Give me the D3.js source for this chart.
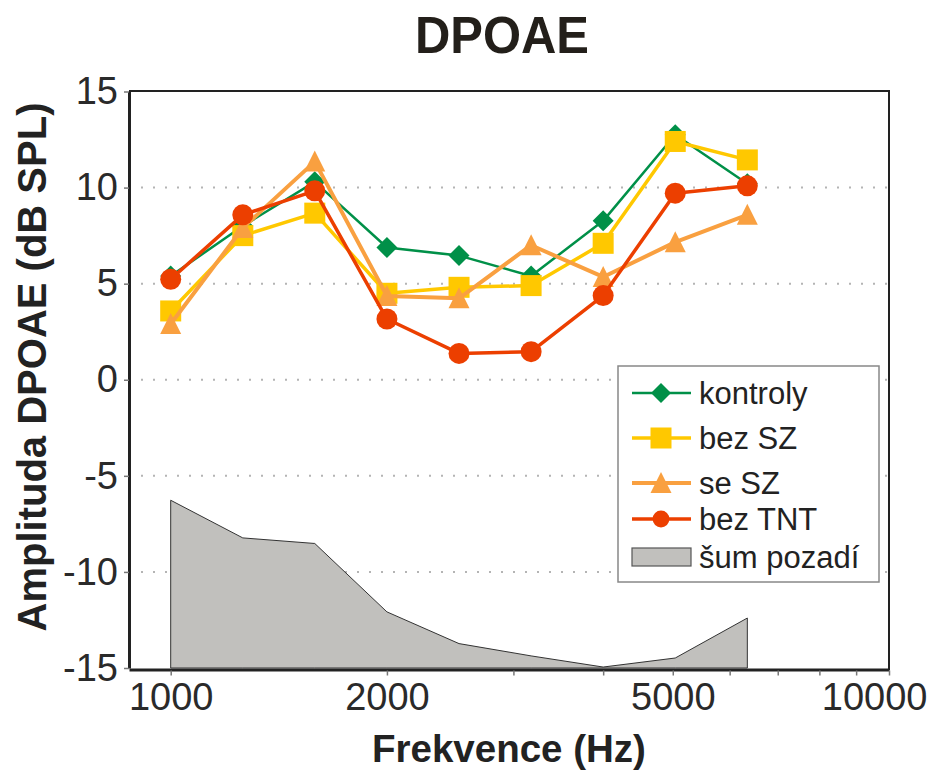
<!DOCTYPE html>
<html><head><meta charset="utf-8">
<script src="https://cdn.jsdelivr.net/npm/d3@7"></script>
<style>html,body{margin:0;padding:0;background:#fff;}svg{display:block;font-family:"Liberation Sans",Arial,sans-serif;}</style>
</head><body><svg id="c" width="929" height="770"></svg>
<script>
const freqs = [1000, 1260, 1587, 2000, 2520, 3175, 4000, 5040, 6350];
const kontroly = [5.4, 8.0, 10.3, 6.88, 6.46, 5.4, 8.27, 12.75, 10.2];
const bezSZ = [3.58, 7.5, 8.67, 4.5, 4.81, 4.9, 7.1, 12.4, 11.44];
const seSZ = [2.9, 7.9, 11.35, 4.36, 4.24, 7.0, 5.35, 7.16, 8.58];
const bezTNT = [5.23, 8.58, 9.83, 3.16, 1.37, 1.46, 4.38, 9.71, 10.09];
const sum = [-6.27, -8.23, -8.52, -12.08, -13.73, -14.37, -14.95, -14.48, -12.4];
const xTickVals = [1000,2000,3000,4000,5000,6000,7000,8000,9000,10000];
const xTickLabels = ["1000","2000","5000","10000"];
const yTicks = [-15,-10,-5,0,5,10,15];
const gridVals = [-10,-5,0,5,10];

const series = [
  {name:"kontroly", values:kontroly, color:"#009048", width:2.5, shape:"diamond"},
  {name:"bez SZ", values:bezSZ, color:"#ffc800", width:3.5, shape:"square"},
  {name:"se SZ", values:seSZ, color:"#f9a040", width:4, shape:"triangle"},
  {name:"bez TNT", values:bezTNT, color:"#ec3f00", width:3.5, shape:"circle"}
];

const svg = d3.select("#c");
const L = 129, R = 889, T = 91.5, B = 668;
const x = d3.scaleLog().domain([1000,10000]).range([170.7,889]);
const x0 = x.invert(L);
x.domain([x0,10000]).range([L,R]);
const y = d3.scaleLinear().domain([-15,15]).range([B,T]);

// grid
svg.append("g").selectAll("line").data(gridVals).join("line")
  .attr("x1", L+12).attr("x2", R).attr("y1", d=>y(d)).attr("y2", d=>y(d))
  .attr("stroke","#b4b4b4").attr("stroke-width",2).attr("stroke-dasharray","2,10");

// noise area
const area = d3.area().x((d,i)=>x(freqs[i])).y0(y(-15)).y1(d=>y(d));
svg.append("path").datum(sum).attr("d", area)
  .attr("fill","#c1c0bd").attr("stroke","#333").attr("stroke-width",1);

// frame
svg.append("line").attr("x1",L).attr("x2",R).attr("y1",T-0.5).attr("y2",T-0.5).attr("stroke","#222").attr("stroke-width",2);
svg.append("line").attr("x1",R).attr("x2",R).attr("y1",T-1.5).attr("y2",B+2).attr("stroke","#222").attr("stroke-width",2);

// axes
const xAxis = d3.axisBottom(x).tickValues(xTickVals).tickSize(5).tickSizeOuter(0)
  .tickFormat(d => xTickLabels.includes(String(d)) ? String(d) : "");
const gx = svg.append("g").attr("transform",`translate(0,${B+1.5})`).call(xAxis);
gx.select(".domain").attr("stroke","#222").attr("stroke-width",3);
gx.selectAll(".tick line").attr("stroke","#777").attr("stroke-width",1.5).attr("transform","translate(0,1)");
gx.selectAll(".tick text").attr("font-size",38).attr("fill","#2a2a2a").attr("font-family","'Liberation Sans',Arial,sans-serif").attr("y",14).attr("dy","0.71em");
gx.selectAll(".tick text").filter(d=>d===10000).attr("text-anchor","end").attr("dx",38);

const yAxis = d3.axisLeft(y).tickValues(yTicks).tickSize(5).tickSizeOuter(0).tickFormat(d3.format("d"));
const gy = svg.append("g").attr("transform",`translate(${L},0)`).call(yAxis);
gy.select(".domain").attr("stroke","#222").attr("stroke-width",3);
gy.selectAll(".tick line").attr("stroke","#777").attr("stroke-width",1.5);
gy.selectAll(".tick text").attr("font-size",38).attr("fill","#2a2a2a").attr("font-family","'Liberation Sans',Arial,sans-serif").attr("x",-11).text(d=>d<0?"-"+Math.abs(d):d);

// symbols
function drawMarker(g, shape, cx, cy, color, scale){
  const s = scale||1;
  if(shape==="diamond"){
    const h=10.5*s;
    g.append("path").attr("d",`M${cx},${cy-h}L${cx+h},${cy}L${cx},${cy+h}L${cx-h},${cy}Z`).attr("fill",color);
  } else if(shape==="square"){
    const h=10.5*s;
    g.append("rect").attr("x",cx-h).attr("y",cy-h).attr("width",2*h).attr("height",2*h).attr("fill",color);
  } else if(shape==="triangle"){
    const h=10.5*s;
    g.append("path").attr("d",`M${cx},${cy-h*1.05}L${cx+h},${cy+h*0.95}L${cx-h},${cy+h*0.95}Z`).attr("fill",color);
  } else {
    g.append("circle").attr("cx",cx).attr("cy",cy).attr("r",10.5*s).attr("fill",color);
  }
}

const line = d3.line().x((d,i)=>x(freqs[i])).y(d=>y(d));
series.forEach(s=>{
  const g = svg.append("g");
  g.append("path").datum(s.values).attr("d",line).attr("fill","none")
    .attr("stroke",s.color).attr("stroke-width",s.width).attr("stroke-linejoin","round");
  s.values.forEach((v,i)=>drawMarker(g, s.shape, x(freqs[i]), y(v), s.color, 1));
});

// legend
const lg = svg.append("g");
lg.append("rect").attr("x",618).attr("y",366).attr("width",261).attr("height",216)
  .attr("fill","#fff").attr("stroke","#888").attr("stroke-width",1.5);
const rows = [393,438,483,519];
series.forEach((s,i)=>{
  lg.append("line").attr("x1",632).attr("x2",691).attr("y1",rows[i]).attr("y2",rows[i])
    .attr("stroke",s.color).attr("stroke-width",s.width);
  drawMarker(lg, s.shape, 661, rows[i], s.color, s.shape==="circle"?0.8:(s.shape==="diamond"?0.95:1));
  lg.append("text").attr("x",699).attr("y",rows[i]).attr("dy","0.36em").attr("font-size",31).attr("fill","#222").text(s.name);
});
lg.append("rect").attr("x",632).attr("y",548).attr("width",59).attr("height",18).attr("fill","#c1c0bd").attr("stroke","#555").attr("stroke-width",1.2);
lg.append("text").attr("x",699).attr("y",557).attr("dy","0.36em").attr("font-size",31).attr("fill","#222").text("šum pozadí");

// titles
svg.append("text").attr("x",502).attr("y",53).attr("text-anchor","middle").attr("font-size",52).attr("font-weight","bold").attr("fill","#231f1a")
  .attr("textLength",174).attr("lengthAdjust","spacingAndGlyphs").text("DPOAE");
svg.append("text").attr("x",509).attr("y",762).attr("text-anchor","middle").attr("font-size",38.5).attr("font-weight","bold").attr("fill","#222").text("Frekvence (Hz)");
svg.append("text").attr("transform","translate(46,367) rotate(-90)").attr("text-anchor","middle").attr("font-size",40).attr("font-weight","bold").attr("fill","#222").text("Amplituda DPOAE (dB SPL)");
</script></body></html>
